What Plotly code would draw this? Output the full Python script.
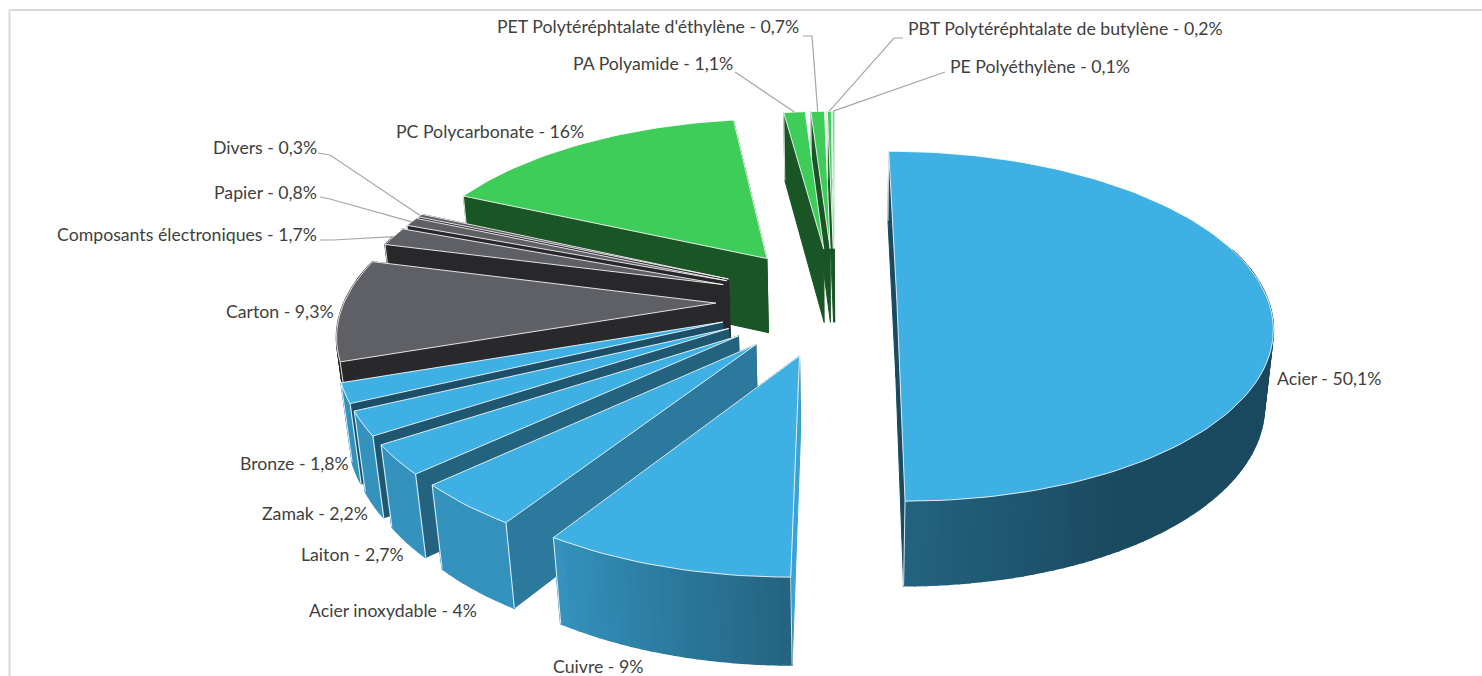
import math
import plotly.graph_objects as go

# ---- data ----
categories = ["Acier", "Cuivre", "Acier inoxydable", "Laiton", "Zamak", "Bronze", "Carton",
              "Composants électroniques", "Papier", "Divers", "PC Polycarbonate", "PA Polyamide",
              "PET Polytéréphtalate d'éthylène", "PBT Polytéréphtalate de butylène", "PE Polyéthylène"]
values = [50.1, 9, 4, 2.7, 2.2, 1.8, 9.3, 1.7, 0.8, 0.3, 16, 1.1, 0.7, 0.2, 0.1]

# ---- styling, separate from the data ----
explode = [0.167] + [0.32] * 14
groups = ["blue"] * 6 + ["grey"] * 4 + ["green"] * 5
top_colour = {"blue": (63, 176, 228), "grey": (95, 96, 102), "green": (61, 205, 88)}
label_left = [1277, 553, 309, 301, 262, 240, 226, 57, 214, 213, 396, 573, 497, 908, 950]
label_mid = [378, 666, 610, 554, 513, 463, 311, 234, 192, 147, 131, 63, 26, 28, 66]
# leader lines start next to the label; the end on the slice is computed
leader_start = {7: [(320, 240), (333, 240)], 8: [(320, 197), (330, 199)], 9: [(318, 153), (330, 155)],
                11: [(735, 72)], 12: [(803, 36), (812, 36)], 13: [(903, 38), (894, 38)], 14: [(945, 72)]}

# ---- camera model of the tilted pie (ground plane -> page pixels) ----
V0, UX, C, W0, G = -880.0, 846.0, 3.18, 8.468e-4, 1.228e-4
CX, CY = -0.03, 0.0
NX, NY = 846.0, 4000.0
FIRST_ANGLE = -0.3


def project(X, Y):
    w = W0 - G * Y
    return UX + X / (C * w), V0 + 1 / w


def drop(p):
    u, v = p
    h = 63 + 0.043 * v
    return u + (NX - u) / (NY - v) * h, v + h


def interp(x, stops):
    if x <= stops[0][0]:
        return stops[0][1]
    for (a, fa), (b, fb) in zip(stops, stops[1:]):
        if x <= b:
            return fa + (fb - fa) * (x - a) / (b - a)
    return stops[-1][1]


OUTER = [(150, 0.42), (180, 0.56), (212, 0.83), (360, 0.83)]
RADIAL = [(10, 0.42), (170, 0.42), (180.4, 0.93), (212.8, 0.69), (227.2, 0.56),
          (236.9, 0.49), (244.8, 0.45), (251.3, 0.43), (285, 0.42), (360, 0.42)]


def rgb(base, f):
    return "rgb(%d,%d,%d)" % tuple(round(c * f) for c in base)


fig = go.Figure()


def poly(pts, fill, line=None, width=1.0):
    fig.add_trace(go.Scatter(x=[p[0] for p in pts] + [pts[0][0]], y=[p[1] for p in pts] + [pts[0][1]],
                             mode="lines", fill="toself", fillcolor=fill,
                             line=dict(color=line or fill, width=width), hoverinfo="skip", showlegend=False))


def segment(pts, colour, width=1.0):
    fig.add_trace(go.Scatter(x=[p[0] for p in pts], y=[p[1] for p in pts], mode="lines",
                             line=dict(color=colour, width=width), hoverinfo="skip", showlegend=False))


total = sum(values)
slices = []
angle = 0.0
for i, value in enumerate(values):
    sweep = 360 * value / total
    slices.append((i, angle, angle + sweep))
    angle += sweep

anchors = {}
for i, s0, s1 in sorted(slices, key=lambda s: -math.cos(math.radians((s[1] + s[2]) / 2))):
    a0, a1 = s0 + FIRST_ANGLE, s1 + FIRST_ANGLE
    mid = math.radians((a0 + a1) / 2)
    ax = CX + explode[i] * math.sin(mid)
    ay = CY - explode[i] * math.cos(mid)
    apex = project(ax, ay)

    def rim(t):
        r = math.radians(t)
        return project(ax + math.sin(r), ay - math.cos(r))

    n = max(2, int((a1 - a0) / 1.5))
    angles = [a0 + (a1 - a0) * k / n for k in range(n + 1)]
    arc = [rim(t) for t in angles]
    base = top_colour[groups[i]]

    # radial side walls; the thin back slices only show their start wall, the very last one is lit
    if s1 > 359.9:
        poly([apex, arc[-1], drop(arc[-1]), drop(apex)], rgb(base, 0.9), width=0.5)
    elif s0 < 350:
        poly([apex, arc[-1], drop(arc[-1]), drop(apex)], rgb(base, 0.42))
    poly([apex, arc[0], drop(arc[0]), drop(apex)], rgb(base, interp(s0, RADIAL)))
    # outer wall, shaded in small steps
    for k in range(n):
        t = (angles[k] + angles[k + 1]) / 2
        if math.cos(math.radians(t)) < 0.3:
            shade = interp(t, OUTER) if groups[i] == "blue" else 0.42
            poly([arc[k], arc[k + 1], drop(arc[k + 1]), drop(arc[k])], rgb(base, shade), width=1.6)
    # edges of the walls and the top face
    white = "rgba(255,255,255,0.85)"
    segment([arc[0], drop(arc[0])], white, 1.0)
    if groups[i] == "blue":
        segment([arc[-1], drop(arc[-1])], white, 1.0)
    poly([apex] + arc, rgb(base, 1.0), line=white, width=1.0)
    anchors[i] = rim((a0 + a1) / 2)

# leader lines
for i, start in leader_start.items():
    end = anchors[i]
    segment(list(start) + [end], "#a6a6a6", 1.2)


def pct(v):
    return ("%g" % v).replace(".", ",")


annotations = [dict(x=x - 2, y=y, text=f"{name} - {pct(v)}%", showarrow=False, xanchor="left", yanchor="middle",
                    xref="x", yref="y", font=dict(family="Lato", size=17.7, color="#404040"))
               for name, v, x, y in zip(categories, values, label_left, label_mid)]

fig.update_layout(
    width=1482, height=676, margin=dict(l=0, r=0, t=0, b=0), showlegend=False,
    paper_bgcolor="white", plot_bgcolor="white", annotations=annotations,
    xaxis=dict(range=[0, 1482], visible=False, fixedrange=True),
    yaxis=dict(range=[676, 0], visible=False, fixedrange=True),
    shapes=[dict(type="line", x0=9.5, x1=1482, y0=10, y1=10, line=dict(color="#d9d9d9", width=2)),
            dict(type="line", x0=9.5, x1=9.5, y0=10, y1=676, line=dict(color="#d9d9d9", width=2))],
)
fig.write_html("out.html", config=dict(displayModeBar=False),
               post_script="document.body.style.margin='0';document.body.style.overflow='hidden';")
